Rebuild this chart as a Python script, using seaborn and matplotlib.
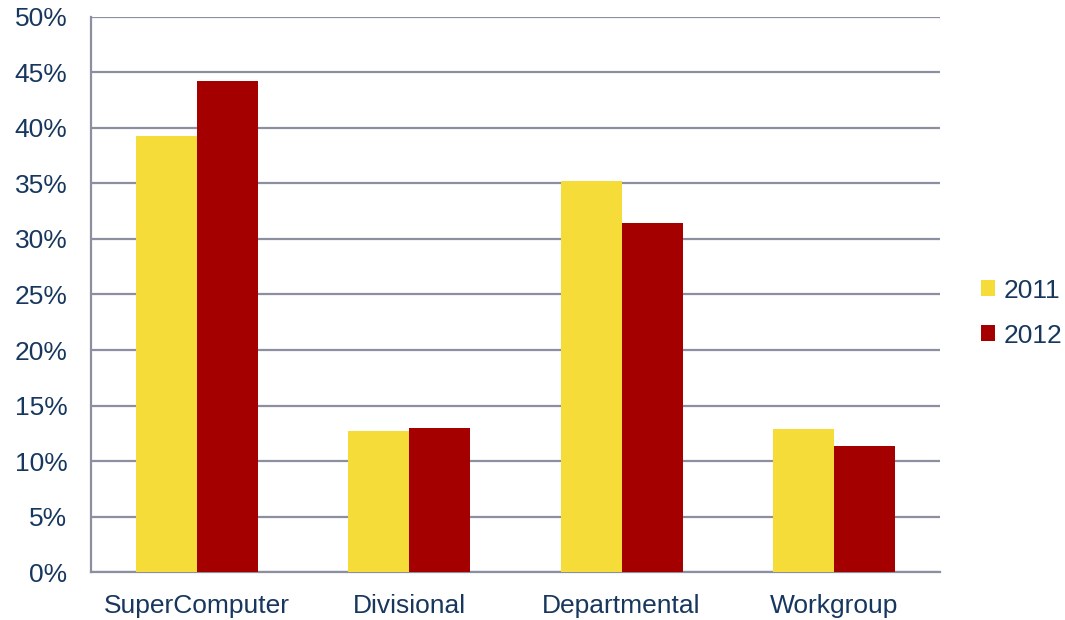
import matplotlib
matplotlib.use("Agg")
import matplotlib.pyplot as plt
import seaborn as sns
import pandas as pd
from matplotlib.patches import Patch
from matplotlib.ticker import MultipleLocator, FuncFormatter

# Share of systems by class, per year (percent)
categories = ["SuperComputer", "Divisional", "Departmental", "Workgroup"]
years = ["2011", "2012"]
share_2011 = [39.3, 12.7, 35.2, 12.9]
share_2012 = [44.2, 13.0, 31.4, 11.35]

colors = {"2011": "#F5DC38", "2012": "#A50000"}
text_color = "#17375E"
grid_color = "#8C8FA0"

df = pd.DataFrame({
    "category": categories * 2,
    "year": [years[0]] * len(categories) + [years[1]] * len(categories),
    "share": share_2011 + share_2012,
})

sns.set_style("white")
plt.rcParams["font.family"] = ["Liberation Sans", "DejaVu Sans"]

fig = plt.figure(figsize=(10.65, 6.2), dpi=100)
ax = fig.add_axes([0.0854, 0.0774, 0.7972, 0.8952])

sns.barplot(data=df, x="category", y="share", hue="year", order=categories,
            hue_order=years, palette=colors, width=0.575, saturation=1,
            linewidth=0, ax=ax, legend=False, zorder=3)

ax.set_ylim(0, 50)
ax.set_xlim(-0.5, len(categories) - 0.5)
ax.yaxis.set_major_locator(MultipleLocator(5))
ax.yaxis.set_major_formatter(FuncFormatter(lambda v, _: f"{v:.0f}%"))
ax.grid(axis="y", color=grid_color, linewidth=1.6, zorder=0)
ax.set_axisbelow(True)
ax.set_xlabel("")
ax.set_ylabel("")

for side in ["top", "right"]:
    ax.spines[side].set_visible(False)
for side in ["left", "bottom"]:
    ax.spines[side].set_color(grid_color)
    ax.spines[side].set_linewidth(1.6)

ax.tick_params(axis="both", length=0, labelsize=19, colors=text_color)
ax.tick_params(axis="y", pad=17)
ax.tick_params(axis="x", pad=16)

handles = [Patch(facecolor=colors[y], edgecolor="none", label=y) for y in years]
leg = fig.legend(handles=handles, loc="center left", bbox_to_anchor=(0.921, 0.495),
                 frameon=False, fontsize=19, handlelength=0.55, handleheight=0.55,
                 handletextpad=0.3, labelspacing=0.8, borderpad=0, borderaxespad=0)
for t in leg.get_texts():
    t.set_color(text_color)

fig.savefig("out.png", dpi=100, facecolor="white")
